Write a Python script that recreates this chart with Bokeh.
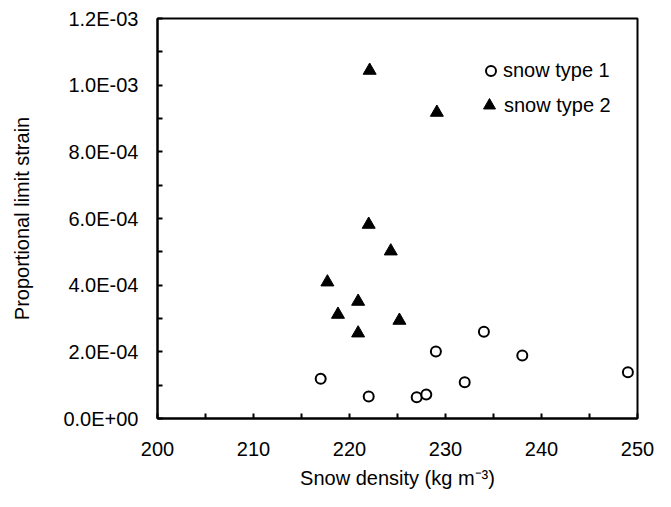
from bokeh.plotting import figure
from bokeh.models import Range1d, FixedTicker, Legend, LegendItem
from bokeh.embed import file_html
from bokeh.resources import INLINE

# --- data ---
type1_density = [217.0, 222.0, 227.0, 228.0, 229.0, 232.0, 234.0, 238.0, 249.0]
type1_strain = [1.19e-4, 6.6e-5, 6.4e-5, 7.2e-5, 2.01e-4, 1.09e-4, 2.60e-4, 1.89e-4, 1.39e-4]

type2_density = [222.1, 229.1, 222.0, 224.3, 217.7, 220.9, 218.8, 225.2, 220.9]
type2_strain = [1.044e-3, 9.18e-4, 5.82e-4, 5.02e-4, 4.09e-4, 3.51e-4, 3.12e-4, 2.94e-4, 2.56e-4]

series_labels = ["snow type 1", "snow type 2"]

x_ticks = [200, 210, 220, 230, 240, 250]
x_minor = [205, 215, 225, 235, 245]
y_ticks = [0.0, 2e-4, 4e-4, 6e-4, 8e-4, 1e-3, 1.2e-3]
y_minor = [1e-4, 3e-4, 5e-4, 7e-4, 9e-4, 1.1e-3]
y_tick_labels = ["0.0E+00", "2.0E-04", "4.0E-04", "6.0E-04", "8.0E-04", "1.0E-03", "1.2E-03"]

FONT = "Liberation Sans"
FS = "20px"

p = figure(width=655, height=491, output_backend="svg", toolbar_location=None,
           x_range=Range1d(200, 250), y_range=Range1d(0, 1.2e-3),
           min_border_left=157, min_border_right=18, min_border_top=18, min_border_bottom=73)

p.xgrid.grid_line_color = None
p.ygrid.grid_line_color = None
p.outline_line_color = "black"
p.outline_line_width = 2
p.outline_line_alpha = 1

p.xaxis.ticker = FixedTicker(ticks=x_ticks, minor_ticks=x_minor)
p.yaxis.ticker = FixedTicker(ticks=y_ticks, minor_ticks=y_minor)
p.yaxis.major_label_overrides = {t: l for t, l in zip(y_ticks, y_tick_labels)}

for ax in (p.xaxis, p.yaxis):
    ax.axis_line_width = 2
    ax.axis_line_color = "black"
    ax.major_tick_in = 5
    ax.major_tick_out = 0
    ax.minor_tick_in = 5
    ax.minor_tick_out = 0
    ax.major_tick_line_width = 2
    ax.minor_tick_line_width = 2
    ax.major_tick_line_color = "black"
    ax.minor_tick_line_color = "black"
    ax.major_label_text_font = FONT
    ax.major_label_text_font_size = FS
    ax.major_label_text_color = "black"
    ax.axis_label_text_font = FONT
    ax.axis_label_text_font_size = FS
    ax.axis_label_text_font_style = "normal"
    ax.axis_label_text_color = "black"

p.xaxis.axis_label = "Snow density (kg m\u207b\u00b3)"
p.yaxis.axis_label = "Proportional limit strain"
p.xaxis.major_label_standoff = 23
p.yaxis.major_label_standoff = 19
p.xaxis.axis_label_standoff = 8
p.yaxis.axis_label_standoff = 27

r1 = p.scatter(type1_density, type1_strain, marker="circle", size=10,
               fill_color="white", line_color="black", line_width=2)
r2 = p.scatter(type2_density, type2_strain, marker="triangle", size=13,
               fill_color="black", line_color="black", line_width=1)


def make_legend(label, renderer, gw, gh, loc):
    lg = Legend(items=[LegendItem(label=label, renderers=[renderer])], location=loc)
    lg.border_line_color = None
    lg.background_fill_alpha = 0
    lg.label_text_font = FONT
    lg.label_text_font_size = FS
    lg.label_text_color = "black"
    lg.glyph_width = gw
    lg.glyph_height = gh
    lg.label_standoff = 0
    lg.label_height = 20
    lg.spacing = 0
    lg.padding = 0
    lg.margin = 0
    p.add_layout(lg)


make_legend(series_labels[0], r1, 25, 25, (321, 335))
make_legend(series_labels[1], r2, 30, 30, (317, 298))

open("out.html", "w").write(file_html(p, INLINE))
